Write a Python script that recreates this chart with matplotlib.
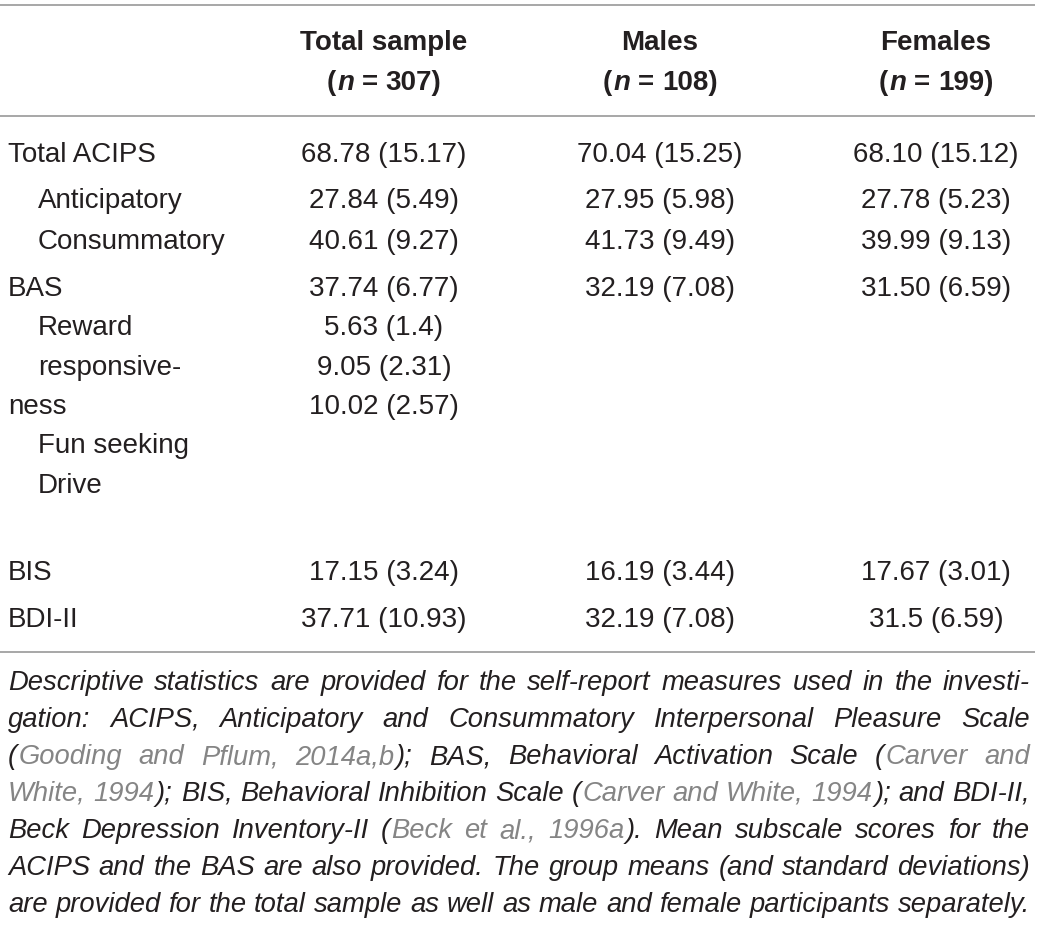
import matplotlib
matplotlib.use('Agg')
import matplotlib.pyplot as plt

W, H = 1043, 925

# ---- data ----
col_headers = ['Total sample', 'Males', 'Females']
col_n = ['307', '108', '199']
row_labels = ['Total ACIPS', 'Anticipatory', 'Consummatory', 'BAS', 'Reward',
              'responsive-', 'ness', 'Fun seeking', 'Drive', 'BIS', 'BDI-II']
row_indent = [0, 1, 1, 0, 1, 1, 0, 1, 1, 0, 0]
total_vals = ['68.78 (15.17)', '27.84 (5.49)', '40.61 (9.27)', '37.74 (6.77)',
              '5.63 (1.4)', '9.05 (2.31)', '10.02 (2.57)', '', '',
              '17.15 (3.24)', '37.71 (10.93)']
male_vals = ['70.04 (15.25)', '27.95 (5.98)', '41.73 (9.49)', '32.19 (7.08)',
             '', '', '', '', '', '16.19 (3.44)', '32.19 (7.08)']
female_vals = ['68.10 (15.12)', '27.78 (5.23)', '39.99 (9.13)', '31.50 (6.59)',
               '', '', '', '', '', '17.67 (3.01)', '31.5 (6.59)']
# texte de la note ; {...} = citation en gris
note_lines = [
    'Descriptive statistics are provided for the self-report measures used in the investi-',
    'gation: ACIPS, Anticipatory and Consummatory Interpersonal Pleasure Scale',
    '({Gooding and Pflum, 2014a,b}); BAS, Behavioral Activation Scale ({Carver and}',
    '{White, 1994}); BIS, Behavioral Inhibition Scale ({Carver and White, 1994}); and BDI-II,',
    'Beck Depression Inventory-II ({Beck et al., 1996a}). Mean subscale scores for the',
    'ACIPS and the BAS are also provided. The group means (and standard deviations)',
    'are provided for the total sample as well as male and female participants separately.',
]

# ---- layout ----
row_base = [162, 208, 249, 296, 335, 375, 414, 453, 493, 580, 627]
col_x = [384, 660, 936]
head_base = [50, 90]
note_base = [690, 727, 764, 801, 838, 875, 912]
x_left, x_indent, x_right = 8, 38, 1030
ink = '#231f20'
cite = '#858585'
rule = '#a0a0a0'
fs = 20

plt.rcParams['font.family'] = ['Liberation Sans', 'DejaVu Sans']
fig = plt.figure(figsize=(W / 100, H / 100), dpi=100)
ax = fig.add_axes([0, 0, 1, 1])
ax.set_xlim(0, W)
ax.set_ylim(H, 0)
ax.axis('off')
renderer = fig.canvas.get_renderer()


def text_w(s, **kw):
    t = ax.text(0, 0, s, **kw)
    w = t.get_window_extent(renderer).width
    t.remove()
    return w


def words_w(words, **kw):
    tot = 0
    for word in words:
        for i, (piece, props) in enumerate(word):
            tot += text_w(piece, **kw, **props) + (1.5 if i else 0)
    return tot


def draw_words(words, x0, y, gap, **kw):
    x = x0
    for word in words:
        for i, (piece, props) in enumerate(word):
            if i:
                x += 1.5
            t = ax.text(x, y, piece, ha='left', va='baseline', **kw, **props)
            x += t.get_window_extent(renderer).width
        x += gap


def parse(line):
    words, cur, gray, buf = [], [], False, ''
    for ch in line + ' ':
        if ch in '{}' or ch == ' ':
            if buf:
                cur.append((buf, {'color': cite if gray else ink}))
                buf = ''
            if ch == ' ':
                if cur:
                    words.append(cur)
                cur = []
            else:
                gray = ch == '{'
        else:
            buf += ch
    return words


# horizontal rules
for yy in [5, 116, 652]:
    ax.plot([0, 1035], [yy, yy], color=rule, lw=1.3, solid_capstyle='butt')

# header
bold = dict(fontsize=fs, fontweight='bold', color=ink)
for cx, name, n in zip(col_x, col_headers, col_n):
    ax.text(cx, head_base[0], name, ha='center', va='baseline', **bold)
    words = [[('(', {}), ('n', {'fontstyle': 'italic'})], [('=', {})], [(n + ')', {})]]
    gap = 0.278 * fs * 100 / 72
    w = words_w(words, **bold) + gap * 2
    draw_words(words, cx - w / 2, head_base[1], gap, **bold)

# body
for lab, ind, yb, a, b, c in zip(row_labels, row_indent, row_base,
                                 total_vals, male_vals, female_vals):
    ax.text(x_indent if ind else x_left, yb, lab, ha='left', va='baseline',
            fontsize=fs, color=ink)
    for cx, v in zip(col_x, [a, b, c]):
        if v:
            ax.text(cx, yb, v, ha='center', va='baseline', fontsize=fs, color=ink)

# note, justified
parsed = [parse(l) for l in note_lines]
trial = 18
nat = []
for words in parsed:
    nat.append(words_w(words, fontsize=trial, fontstyle='italic')
               + (len(words) - 1) * 0.278 * trial * 100 / 72)
nfs = min(20, trial * (x_right - x_left) / max(nat) * 0.995)
for words, yb in zip(parsed, note_base):
    ww = words_w(words, fontsize=nfs, fontstyle='italic')
    gap = (x_right - x_left - ww) / (len(words) - 1)
    draw_words(words, x_left, yb, gap, fontsize=nfs, fontstyle='italic')

fig.savefig('out.png', dpi=100)
